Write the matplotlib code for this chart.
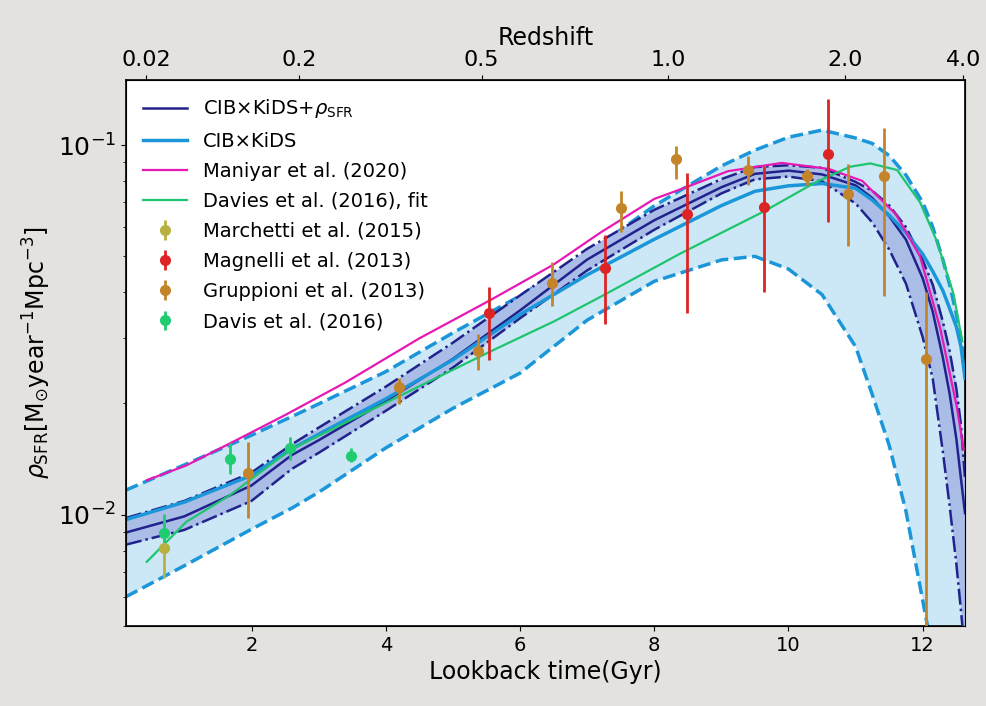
import numpy as np
from matplotlib import pyplot as plt
from matplotlib.ticker import NullFormatter

plt.rcParams['font.family'] = ['DejaVu Sans']
plt.rcParams['mathtext.fontset'] = 'dejavusans'

# model grid (lookback time, Gyr)
t_model = [0.13, 1.0, 2.0, 2.6, 3.0, 4.0, 5.0, 6.0, 7.0, 8.0, 9.0, 9.5,
           10.0, 10.5, 11.0, 11.25, 11.5, 11.75, 12.0, 12.15, 12.3, 12.4,
           12.5, 12.57, 12.63]

# CIB x KiDS + rho_SFR : best fit and 1-sigma band
sfr_joint = [0.00895, 0.0099, 0.0120, 0.0145, 0.0159, 0.0203, 0.0264, 0.0357,
             0.0490, 0.0626, 0.0769, 0.0836, 0.0853, 0.0833, 0.0778, 0.0719,
             0.0642, 0.0555, 0.0436, 0.0354, 0.0266, 0.0213, 0.0161, 0.0125,
             0.0101]
sfr_joint_hi = [0.0098, 0.0109, 0.0130, 0.0155, 0.0172, 0.0222, 0.0292, 0.0392,
                0.0524, 0.0668, 0.0809, 0.0872, 0.0882, 0.0868, 0.0795, 0.0752,
                0.0687, 0.0600, 0.0488, 0.0419, 0.0333, 0.0278, 0.0220, 0.0175,
                0.0125]
sfr_joint_lo = [0.0083, 0.0091, 0.0109, 0.0133, 0.0147, 0.0191, 0.0250, 0.0340,
                0.0458, 0.0590, 0.0740, 0.0808, 0.0822, 0.0798, 0.0695, 0.0617,
                0.0522, 0.0422, 0.0302, 0.0233, 0.0148, 0.0106, 0.0074, 0.0055,
                0.0042]

# CIB x KiDS only
sfr_cib = [0.00970, 0.01082, 0.01278, 0.01507, 0.01651, 0.02058, 0.02625, 0.03481,
           0.04455, 0.0556, 0.0686, 0.0750, 0.0776, 0.0787, 0.0764, 0.0710,
           0.0646, 0.0580, 0.0507, 0.0455, 0.0404, 0.0362, 0.0323, 0.0285,
           0.0234]
sfr_cib_hi = [0.01166, 0.01364, 0.01641, 0.01843, 0.01994, 0.02438, 0.03105, 0.0391,
              0.0508, 0.0685, 0.0878, 0.0969, 0.1050, 0.1098, 0.1045, 0.1010,
              0.0937, 0.0830, 0.0700, 0.0600, 0.0490, 0.0420, 0.0350, 0.0300,
              0.0260]
sfr_cib_lo = [0.0060, 0.00728, 0.00914, 0.01042, 0.01150, 0.01516, 0.0194, 0.02416,
              0.0336, 0.0428, 0.0489, 0.0500, 0.0462, 0.0394, 0.0285, 0.0211,
              0.01542, 0.01023, 0.00586, 0.0042, 0.0028, 0.0022, 0.0016, 0.0013,
              0.0010]

# Maniyar et al. (2020)
t_maniyar = [0.44, 1.03, 1.68, 2.5, 3.4, 4.5, 5.55, 6.5, 7.2, 8.0, 8.4, 9.1,
             9.9, 10.6, 11.1, 11.6, 11.96, 12.26, 12.51, 12.61]
sfr_maniyar = [0.0124, 0.0136, 0.0156, 0.0186, 0.0228, 0.0300, 0.0380, 0.0475,
               0.0580, 0.0715, 0.0760, 0.0850, 0.0895, 0.0862, 0.0800, 0.0650,
               0.0500, 0.0320, 0.0195, 0.0150]

# Davies et al. (2016), fit
t_davies = [0.44, 1.03, 1.68, 2.57, 3.52, 4.51, 5.55, 6.50, 7.25, 8.39,
            9.63, 10.42, 10.92, 11.22, 11.62, 11.96, 12.21, 12.46, 12.59]
sfr_davies = [0.00746, 0.00957, 0.0113, 0.01495, 0.0182, 0.0223, 0.0276,
              0.0333, 0.0393, 0.0509, 0.0661, 0.0796, 0.0874, 0.0892, 0.0856,
              0.0700, 0.0550, 0.0395, 0.0294]

# observations: value, lower / upper end of error bar
t_marchetti = [0.70]
v_marchetti = [0.00811]
lo_marchetti = [0.00676]
hi_marchetti = [0.0097]

t_magnelli = [5.54, 7.27, 8.49, 9.63, 10.59]
v_magnelli = [0.0351, 0.0465, 0.0650, 0.0682, 0.0946]
lo_magnelli = [0.0262, 0.0328, 0.0351, 0.0401, 0.0621]
hi_magnelli = [0.0414, 0.0571, 0.0842, 0.0877, 0.1331]

t_gruppioni = [1.95, 4.20, 5.375, 6.48, 7.50, 8.32, 9.39, 10.27, 10.88, 11.43, 12.05]
v_gruppioni = [0.0130, 0.0221, 0.0277, 0.0423, 0.0674, 0.0915, 0.0858, 0.0826,
               0.0737, 0.0826, 0.0263]
lo_gruppioni = [0.0098, 0.0199, 0.0246, 0.0366, 0.0583, 0.0809, 0.0780, 0.0780,
                0.0535, 0.0391, 0.0001]
hi_gruppioni = [0.0157, 0.0234, 0.0309, 0.0482, 0.0751, 0.0996, 0.0934, 0.0860,
                0.0888, 0.1110, 0.0401]

t_davis = [0.70, 1.68, 2.57, 3.48]
v_davis = [0.00893, 0.01419, 0.01514, 0.01446]
lo_davis = [0.0079, 0.01286, 0.01406, 0.01385]
hi_davis = [0.01007, 0.0156, 0.01626, 0.0152]

# redshift axis
z_labels = ['0.02', '0.2', '0.5', '1.0', '2.0', '4.0']
z_lookback = [0.426, 2.707, 5.427, 8.207, 10.845, 12.604]


def err(v, lo, hi):
    v = np.array(v)
    return [v - np.array(lo), np.array(hi) - v]


fig = plt.figure(figsize=(9.87, 7.06), dpi=100, facecolor='#e4e2de')
ax = fig.add_axes([126 / 987, 1 - 626 / 706, 839 / 987, 546 / 706])

c_navy = '#22228c'
c_blue = '#1b96d8'

ax.fill_between(t_model, sfr_cib_lo, sfr_cib_hi, color='#cce8f6', lw=0, zorder=1)
ax.plot(t_model, sfr_cib_hi, '--', color=c_blue, lw=2.5, zorder=2)
ax.plot(t_model, sfr_cib_lo, '--', color=c_blue, lw=2.5, zorder=2)
ax.fill_between(t_model, sfr_joint_lo, sfr_joint_hi, color='#a9bde7', lw=0, zorder=3)
ax.plot(t_model, sfr_joint_hi, '-.', color=c_navy, lw=1.8, zorder=4)
ax.plot(t_model, sfr_joint_lo, '-.', color=c_navy, lw=1.8, zorder=4)

ax.plot(t_model, sfr_joint, '-', color=c_navy, lw=1.8, zorder=5,
        label=r'CIB×KiDS+$\rho_{\rm SFR}$')
ax.plot(t_model, sfr_cib, '-', color=c_blue, lw=2.5, zorder=5, label='CIB×KiDS')
ax.plot(t_maniyar, sfr_maniyar, '-', color='#e619b4', lw=1.6, zorder=5,
        label='Maniyar et al. (2020)')
ax.plot(t_davies, sfr_davies, '-', color='#1fc46e', lw=1.6, zorder=5,
        label='Davies et al. (2016), fit')

eb = dict(fmt='o', ms=7, elinewidth=2, capsize=0, zorder=6)
ax.errorbar(t_marchetti, v_marchetti, yerr=err(v_marchetti, lo_marchetti, hi_marchetti),
            color='#b8b040', label='Marchetti et al. (2015)', **eb)
ax.errorbar(t_magnelli, v_magnelli, yerr=err(v_magnelli, lo_magnelli, hi_magnelli),
            color='#dd2424', label='Magnelli et al. (2013)', **eb)
ax.errorbar(t_gruppioni, v_gruppioni, yerr=err(v_gruppioni, lo_gruppioni, hi_gruppioni),
            color='#c4842a', label='Gruppioni et al. (2013)', **eb)
ax.errorbar(t_davis, v_davis, yerr=err(v_davis, lo_davis, hi_davis),
            color='#20cc70', label='Davis et al. (2016)', **eb)

ax.set_yscale('log')
ax.set_xlim(0.13, 12.63)
ax.set_ylim(0.005, 0.15)
ax.yaxis.set_minor_formatter(NullFormatter())
ax.set_xticks([2, 4, 6, 8, 10, 12])
ax.tick_params(axis='x', labelsize=14)
ax.tick_params(axis='y', labelsize=18)
ax.set_xlabel('Lookback time(Gyr)', fontsize=17)
ax.set_ylabel(r'$\rho_{\rm SFR}[\rm M_{\odot}year^{-1}Mpc^{-3}]$', fontsize=17)
for s in ax.spines.values():
    s.set_linewidth(1.2)

ax.legend(loc='upper left', frameon=False, fontsize=14, handlelength=2.25,
          borderaxespad=0.5, labelspacing=0.57)

ax2 = ax.twiny()
ax2.set_xlim(ax.get_xlim())
ax2.set_xticks(z_lookback)
ax2.set_xticklabels(z_labels)
ax2.tick_params(axis='x', labelsize=16)
ax2.set_xlabel('Redshift', fontsize=17)

fig.savefig('out.png', dpi=100, facecolor=fig.get_facecolor())
